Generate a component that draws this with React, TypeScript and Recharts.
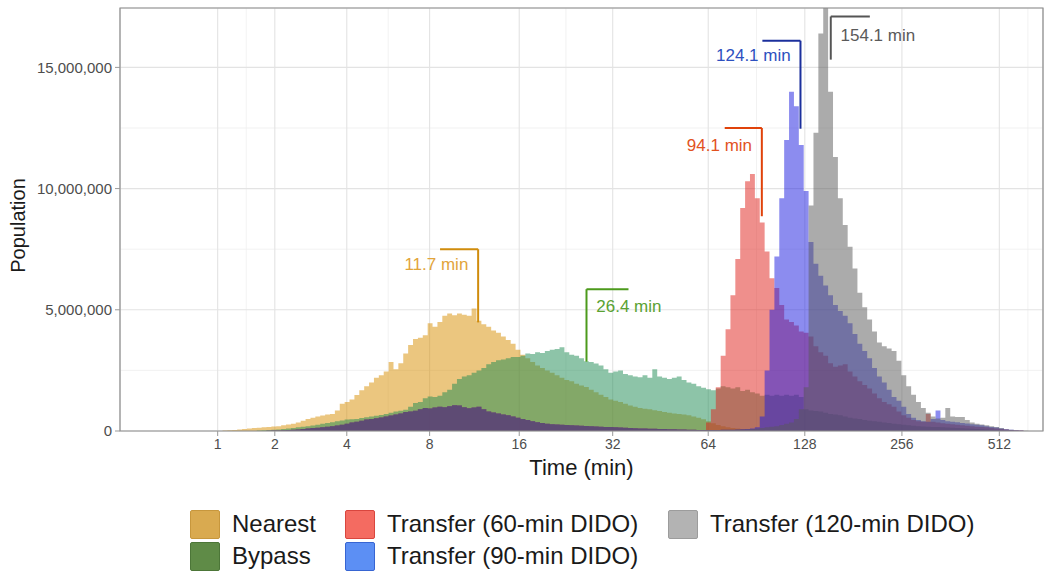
import React from 'react';
import {
  AreaChart,
  Area,
  XAxis,
  YAxis,
  CartesianGrid,
  ReferenceLine,
  ReferenceDot,
  ReferenceArea,
} from 'recharts';

// histogram bins live on a log2(min + 1) axis
const BIN_WIDTH = 0.05;
const N_BINS = 189;
const X_MAX = 9.45;
const Y_MAX = 17.45; // millions

const xTickMinutes = [1, 2, 4, 8, 16, 32, 64, 128, 256, 512];
const yTicksM = [0, 5, 10, 15];
const yMinorTicksM = [2.5, 7.5, 12.5];

// population per bin, in millions
const nearestStart = 21;
const nearest = [
  0.02, 0.03, 0.04, 0.06, 0.08, 0.1, 0.12, 0.13, 0.15,
  0.17, 0.19, 0.2, 0.24, 0.27, 0.3, 0.35, 0.42, 0.5, 0.55,
  0.6, 0.64, 0.68, 0.7, 0.85, 1.12, 1.2, 1.3, 1.48, 1.68,
  1.85, 2.0, 2.2, 2.3, 2.45, 2.85, 2.55, 2.8, 3.2, 3.55,
  3.8, 3.85, 3.95, 4.45, 4.3, 4.5, 4.75, 4.85, 4.78, 4.85,
  4.8, 4.75, 5.05, 4.55, 4.4, 4.3, 4.15, 4.05, 3.9, 3.75,
  3.6, 3.35, 3.15, 3.0, 2.85, 2.7, 2.6, 2.5, 2.4, 2.3,
  2.2, 2.1, 2.05, 1.95, 1.88, 1.82, 1.7, 1.6, 1.5, 1.4,
  1.3, 1.25, 1.2, 1.12, 1.05, 1.0, 0.95, 0.92, 0.9, 0.86,
  0.82, 0.78, 0.75, 0.72, 0.7, 0.68, 0.65, 0.6, 0.55, 0.48,
  0.4, 0.32, 0.25, 0.2, 0.15, 0.12, 0.1, 0.08, 0.06, 0.05, 0.04, 0.03,
];

const bypassStart = 28;
const bypass = [
  0.02, 0.03,
  0.04, 0.05, 0.06, 0.08, 0.1, 0.12, 0.15, 0.18, 0.2, 0.23,
  0.26, 0.3, 0.33, 0.36, 0.4, 0.43, 0.47, 0.48, 0.5, 0.54,
  0.57, 0.6, 0.63, 0.66, 0.7, 0.75, 0.8, 0.84, 0.88, 1.0,
  1.15, 1.2, 1.35, 1.42, 1.4, 1.45, 1.6, 1.7, 1.95, 2.15,
  2.25, 2.3, 2.4, 2.5, 2.6, 2.75, 2.85, 2.92, 2.95, 3.0,
  3.05, 3.05, 3.1, 3.2, 3.18, 3.25, 3.22, 3.3, 3.35, 3.38,
  3.45, 3.25, 3.15, 3.1, 3.0, 2.88, 2.85, 2.78, 2.7, 2.55,
  2.4, 2.45, 2.5, 2.35, 2.3, 2.25, 2.22, 2.3, 2.2, 2.55,
  2.25, 2.2, 2.15, 2.2, 2.25, 2.1, 2.0, 1.95, 1.85, 1.78,
  1.72, 1.68, 1.75, 1.85, 1.8, 1.75, 1.8, 1.65, 1.7, 1.6,
  1.55, 1.45, 1.5, 1.45, 1.5, 1.45, 1.5, 1.45, 1.5, 1.4,
  0.9, 0.85, 0.82, 0.8, 0.75, 0.7, 0.68, 0.65, 0.6, 0.55,
  0.52, 0.5, 0.45, 0.42, 0.4, 0.38, 0.35, 0.33, 0.3, 0.28,
  0.26, 0.24, 0.22, 0.2, 0.19, 0.18, 0.17, 0.16, 0.15, 0.14,
  0.13, 0.12, 0.11, 0.1, 0.09, 0.08, 0.07, 0.06, 0.05, 0.04,
  0.03, 0.02, 0.01,
];

// the three transfer strategies share the same direct-to-centre part
const transferStart = 30;
const transferDirect = [
  0.01, 0.02, 0.02, 0.03, 0.04, 0.05, 0.06, 0.08, 0.1, 0.12,
  0.13, 0.15, 0.18, 0.2, 0.23, 0.26, 0.3, 0.35, 0.38, 0.42,
  0.47, 0.5, 0.53, 0.56, 0.6, 0.64, 0.68, 0.72, 0.78, 0.8,
  0.84, 0.9, 0.95, 0.93, 0.97, 1.0, 0.98, 1.02, 1.06, 1.05,
  0.98, 0.94, 0.97, 1.0, 0.9, 0.8, 0.76, 0.72, 0.68, 0.65,
  0.6, 0.55, 0.5, 0.45, 0.4, 0.36, 0.33, 0.3, 0.28, 0.27,
  0.26, 0.25, 0.24, 0.23, 0.22, 0.21, 0.2, 0.19, 0.18, 0.17,
  0.16, 0.15, 0.14, 0.13, 0.12, 0.11, 0.1, 0.1, 0.09, 0.09,
  0.08, 0.08, 0.07, 0.07, 0.06, 0.06, 0.05, 0.05, 0.04, 0.04,
];

const transfer60Tail = [
  0.35, 0.9, 1.8, 3.1, 4.2, 5.6, 7.1, 9.2, 10.3, 10.6,
  9.6, 8.6, 7.4, 6.3, 5.9, 5.2, 4.6, 4.5, 4.35, 4.1,
  4.05, 3.9, 3.5, 3.25, 3.1, 2.8, 2.65, 2.7, 2.75, 2.45,
  2.25, 2.05, 1.9, 1.75, 1.55, 1.35, 1.2, 1.1, 1.0, 0.8,
  0.65, 0.55, 0.45, 0.4, 0.38, 0.7, 0.38, 0.35, 0.32, 0.3,
  0.28, 0.26, 0.24, 0.22, 0.2, 0.18, 0.16, 0.15, 0.12, 0.1,
  0.08, 0.06, 0.04, 0.03, 0.02,
];

const transfer90Tail = [
  0.04, 0.04, 0.04, 0.05, 0.05, 0.05, 0.06, 0.07, 0.08, 0.1,
  0.15, 0.6, 2.5, 5.0, 7.2, 9.6, 12.0, 14.0, 13.4, 11.8,
  9.9, 7.8, 6.9, 6.4, 6.0, 5.6, 5.2, 4.95, 4.75, 4.45,
  4.0, 3.6, 3.3, 3.0, 2.6, 2.25, 2.0, 1.7, 1.4, 1.25,
  1.0, 0.7, 0.55, 0.45, 0.4, 0.38, 0.5, 0.85, 0.45, 0.4,
  0.38, 0.36, 0.33, 0.31, 0.28, 0.26, 0.24, 0.2, 0.17, 0.14,
  0.1, 0.07, 0.05, 0.03, 0.02,
];

const transfer120Tail = [
  0.04, 0.04, 0.04, 0.05, 0.05, 0.05, 0.06, 0.06, 0.07, 0.08,
  0.1, 0.12, 0.15, 0.18, 0.2, 0.25, 0.3, 0.35, 0.5, 0.9,
  1.8, 9.3, 12.3, 16.4, 17.45, 14.0, 11.3, 9.6, 8.5, 7.6,
  6.7, 5.7, 5.1, 4.6, 4.1, 3.65, 3.5, 3.4, 3.3, 2.9,
  2.3, 1.85, 1.5, 1.2, 0.95, 0.75, 0.6, 0.52, 0.55, 0.95,
  0.6, 0.58, 0.58, 0.45, 0.35, 0.3, 0.27, 0.24, 0.2, 0.17,
  0.12, 0.07, 0.05, 0.03, 0.02, 0.01,
];

// median travel time markers
const medianMinutes = [11.7, 26.4, 94.1, 124.1, 154.1];
const medianBarTopM = [4.48, 2.86, 8.86, 12.47, 15.32];
const medianBracketTopM = [7.5, 5.85, 12.5, 16.1, 17.1];
const medianArm = [-0.39, 0.43, -0.38, -0.39, 0.4];
const medianLabelYM = [6.88, 5.15, 11.76, 15.49, 16.32];
const medianLineColors = ['#D08C0C', '#4C9A1C', '#E0420A', '#1B2F9C', '#555555'];
const medianTextColors = ['#E2A43A', '#5AA232', '#E2521E', '#2D50C0', '#5A5A5A'];

const series = [
  { key: 'nearest', name: 'Nearest', fill: '#D88E00', legendFill: '#D9AA50', legendStroke: '#C7973D' },
  { key: 'bypass', name: 'Bypass', fill: '#1B8951', legendFill: '#5F8B47', legendStroke: '#4C7638' },
  { key: 't60', name: 'Transfer (60-min DIDO)', fill: '#E0201A', legendFill: '#F46B61', legendStroke: '#D9463E' },
  { key: 't90', name: 'Transfer (90-min DIDO)', fill: '#1A1AE0', legendFill: '#5C8FF4', legendStroke: '#3765D2' },
  { key: 't120', name: 'Transfer (120-min DIDO)', fill: '#585858', legendFill: '#B3B3B3', legendStroke: '#9C9C9C' },
];

const toT = (m: number) => Math.log2(m + 1);
const majorT = xTickMinutes.map(toT);

// ggplot-style minor breaks: midpoints, plus one step past the first break
const step = majorT[1] - majorT[0];
const extended = [majorT[0] - step, ...majorT, majorT[majorT.length - 1] + step];
const minorT: number[] = [extended[0]];
for (let i = 0; i < extended.length - 1; i++) {
  minorT.push((extended[i] + extended[i + 1]) / 2);
}

const pick = (arr: number[], start: number, i: number) => arr[i - start] ?? 0;

const transfer60 = [...transferDirect, ...transfer60Tail];
const transfer90 = [...transferDirect, ...transfer90Tail];
const transfer120 = [...transferDirect, ...transfer120Tail];

const rows = Array.from({ length: N_BINS + 1 }, (_, i) => ({
  t: i * BIN_WIDTH,
  nearest: pick(nearest, nearestStart, i),
  bypass: pick(bypass, bypassStart, i),
  t60: pick(transfer60, transferStart, i),
  t90: pick(transfer90, transferStart, i),
  t120: pick(transfer120, transferStart, i),
}));

const FONT = '"Liberation Sans", Arial, Helvetica, sans-serif';

const legendSlots = [
  { left: 190, top: 509 },
  { left: 190, top: 541 },
  { left: 345, top: 509 },
  { left: 345, top: 541 },
  { left: 668, top: 509 },
];

const XTitle = (props: any) => {
  const vb = props.viewBox || { x: 120, y: 431, width: 923, height: 59 };
  return (
    <text x={vb.x + vb.width / 2} y={vb.y + 36} textAnchor="middle" dominantBaseline="central"
      fontFamily={FONT} fontSize={22} fill="#1a1a1a">
      Time (min)
    </text>
  );
};

const YTitle = (props: any) => {
  const vb = props.viewBox || { x: 0, y: 8, width: 120, height: 423 };
  const cy = vb.y + vb.height / 2 + 6;
  return (
    <text x={18} y={cy} transform={`rotate(-90, 18, ${cy})`} textAnchor="middle" dominantBaseline="central"
      fontFamily={FONT} fontSize={20} fill="#1a1a1a">
      Population
    </text>
  );
};

export default function App() {
  return (
    <div style={{ position: 'absolute', left: 0, top: 0, width: 1050, height: 578, background: '#fff', fontFamily: FONT }}>
      <AreaChart width={1050} height={490} data={rows} margin={{ top: 8, right: 7, bottom: 0, left: 0 }}>
        <XAxis xAxisId="minor" type="number" dataKey="t" domain={[0, X_MAX]} ticks={minorT} allowDataOverflow hide />
        <YAxis yAxisId="minor" type="number" domain={[0, Y_MAX]} ticks={yMinorTicksM} allowDataOverflow hide />
        <CartesianGrid xAxisId="minor" yAxisId="minor" stroke="#EFEFEF" strokeWidth={0.8} />
        <CartesianGrid stroke="#E3E3E3" strokeWidth={1.1} />
        <XAxis
          type="number"
          dataKey="t"
          domain={[0, X_MAX]}
          ticks={majorT}
          allowDataOverflow
          height={59}
          axisLine={false}
          tickSize={5}
          tickMargin={3}
          tickLine={{ stroke: '#999' }}
          tick={{ fill: '#4D4D4D', fontSize: 14, fontFamily: FONT }}
          tickFormatter={(v: number) => String(Math.round(2 ** v - 1))}
          label={<XTitle />}
        />
        <YAxis
          type="number"
          domain={[0, Y_MAX]}
          ticks={yTicksM}
          allowDataOverflow
          width={120}
          axisLine={false}
          tickSize={5}
          tickMargin={3}
          tickLine={{ stroke: '#999' }}
          tick={{ fill: '#4D4D4D', fontSize: 15, fontFamily: FONT }}
          tickFormatter={(v: number) => (v * 1e6).toLocaleString('en-US')}
          label={<YTitle />}
        />
        {series.map((s) => (
          <Area
            key={s.key}
            dataKey={s.key}
            name={s.name}
            type="stepAfter"
            stroke="none"
            fill={s.fill}
            fillOpacity={0.5}
            dot={false}
            activeDot={false}
            isAnimationActive={false}
          />
        ))}
        <ReferenceArea x1={0} x2={X_MAX} y1={0} y2={Y_MAX} fill="none" stroke="#8E8E8E" strokeWidth={1.2} />
        {medianMinutes.map((m, i) => (
          <ReferenceLine
            key={`v-${i}`}
            segment={[{ x: toT(m), y: medianBarTopM[i] }, { x: toT(m), y: medianBracketTopM[i] }]}
            stroke={medianLineColors[i]}
            strokeWidth={2}
          />
        ))}
        {medianMinutes.map((m, i) => (
          <ReferenceLine
            key={`h-${i}`}
            segment={[{ x: toT(m), y: medianBracketTopM[i] }, { x: toT(m) + medianArm[i], y: medianBracketTopM[i] }]}
            stroke={medianLineColors[i]}
            strokeWidth={2}
          />
        ))}
        {medianMinutes.map((m, i) => {
          const right = medianArm[i] > 0;
          return (
            <ReferenceDot
              key={`l-${i}`}
              x={toT(m) + (right ? 0.1 : -0.1)}
              y={medianLabelYM[i]}
              r={0}
              shape={(p: any) => (
                <text x={p.cx} y={p.cy} textAnchor={right ? 'start' : 'end'} dominantBaseline="central"
                  fontFamily={FONT} fontSize={17} fill={medianTextColors[i]}>
                  {`${m} min`}
                </text>
              )}
            />
          );
        })}
      </AreaChart>
      {series.map((s, i) => (
        <div key={s.key} style={{ position: 'absolute', left: legendSlots[i].left, top: legendSlots[i].top, display: 'flex', alignItems: 'center', height: 30 }}>
          <div style={{ width: 28, height: 27, background: s.legendFill, border: `1.5px solid ${s.legendStroke}`, borderRadius: 2 }} />
          <span style={{ marginLeft: 12, fontSize: 24, color: '#1a1a1a', whiteSpace: 'nowrap' }}>{s.name}</span>
        </div>
      ))}
    </div>
  );
}
